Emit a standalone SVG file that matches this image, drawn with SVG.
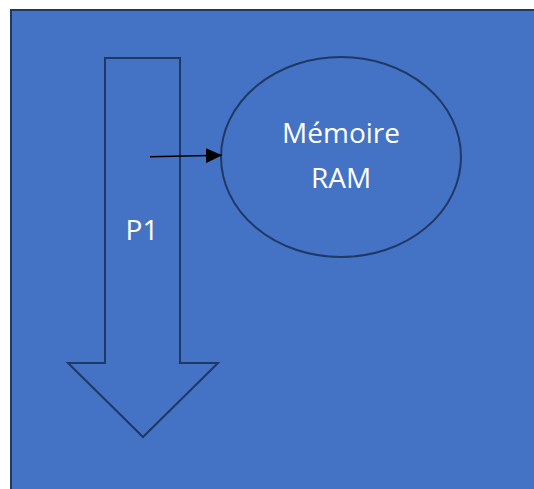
<svg xmlns="http://www.w3.org/2000/svg" width="534" height="489" viewBox="0 0 534 489">
<defs>
<style>
.shape{fill:#4472C4;stroke:#1F3864;stroke-width:2}
.lbl{font-family:"Open Sans","Liberation Sans",sans-serif;font-size:28px;fill:#FFFFFF;text-anchor:middle}
</style>
<marker id="ah" markerWidth="16" markerHeight="15" refX="16" refY="7.5" orient="auto" markerUnits="userSpaceOnUse" viewBox="0 0 16 15">
<path d="M0,0 L16,7.5 L0,15 z" fill="#000"/>
</marker>
</defs>
<rect width="534" height="489" fill="#FFFFFF"/>
<g id="background">
<rect class="shape" x="11" y="10" width="540" height="500" stroke-width="2.5"/>
</g>
<g id="p1">
<path class="shape" d="M105,58 L180,58 L180,363 L218,363 L143,437 L68,363 L105,363 Z"/>
<text class="lbl" x="142" y="240">P1</text>
</g>
<g id="ram">
<ellipse class="shape" cx="341" cy="157" rx="120" ry="100"/>
<text class="lbl" x="341" y="143">Mémoire</text>
<text class="lbl" x="341" y="188">RAM</text>
</g>
<g id="connectors">
<line x1="150" y1="156.7" x2="222" y2="155.3" stroke="#000" stroke-width="1.5" marker-end="url(#ah)"/>
</g>
</svg>
